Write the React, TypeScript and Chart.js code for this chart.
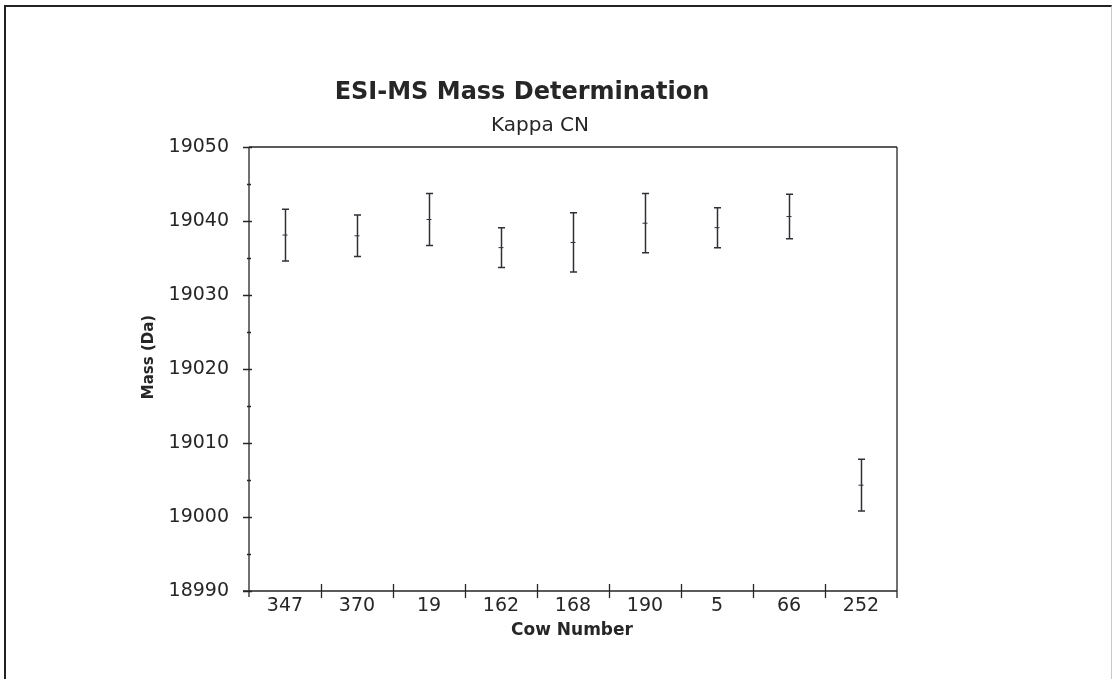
import { useEffect, useRef } from 'react';
import { Chart, registerables } from 'chart.js';

Chart.register(...registerables);

// Mass measurements per cow (mean with symmetric error half-width, in Da)
const cowNumbers = ['347', '370', '19', '162', '168', '190', '5', '66', '252'];
const massMeans = [19038.1, 19038.0, 19040.2, 19036.4, 19037.1, 19039.7, 19039.1, 19040.6, 19004.3];
const massErrors = [3.5, 2.8, 3.5, 2.7, 4.0, 4.0, 2.7, 3.0, 3.5];

const yMin = 18990;
const yMax = 19050;
const yStep = 5;
const yLabelEvery = 10;

const titleText = 'ESI-MS Mass Determination';
const subtitleText = 'Kappa CN';
const xAxisTitle = 'Cow Number';
const yAxisTitle = 'Mass (Da)';

const FONT = '"DejaVu Sans", "Liberation Sans", sans-serif';
const INK = '#262626';
const BAR_INK = '#303036';

const W = 1114;
const H = 679;

const axesAndBars = {
  id: 'axesAndBars',
  afterDatasetsDraw(chart: any) {
    const { ctx, chartArea, scales } = chart;
    const xs = scales.x;
    const ys = scales.y;
    const { left, right, top, bottom } = chartArea;

    ctx.save();
    ctx.strokeStyle = INK;
    ctx.lineWidth = 1.3;

    // plot frame
    ctx.beginPath();
    ctx.moveTo(left, top);
    ctx.lineTo(right, top);
    ctx.moveTo(left, top);
    ctx.lineTo(left, bottom + 6);
    ctx.moveTo(left - 6, bottom);
    ctx.lineTo(right, bottom);
    ctx.moveTo(right, top);
    ctx.lineTo(right, bottom + 7);
    ctx.stroke();

    // y tick marks (major with labels, minor between)
    ctx.beginPath();
    for (let v = yMin; v <= yMax; v += yStep) {
      const y = Math.round(ys.getPixelForValue(v)) + 0.5;
      const major = (v - yMin) % yLabelEvery === 0;
      ctx.moveTo(left - (major ? 6 : 2), y);
      ctx.lineTo(left + (major ? 3 : 2), y);
    }
    ctx.stroke();

    // x tick marks on category boundaries
    ctx.beginPath();
    for (let i = 1; i < cowNumbers.length; i++) {
      const x = Math.round((xs.getPixelForValue(i - 1) + xs.getPixelForValue(i)) / 2) + 0.5;
      ctx.moveTo(x, bottom - 7);
      ctx.lineTo(x, bottom + 7);
    }
    ctx.stroke();

    // error bars
    ctx.strokeStyle = BAR_INK;
    ctx.lineWidth = 1.5;
    ctx.beginPath();
    massMeans.forEach((m, i) => {
      const x = Math.round(xs.getPixelForValue(i)) + 0.5;
      const yHi = ys.getPixelForValue(m + massErrors[i]);
      const yLo = ys.getPixelForValue(m - massErrors[i]);
      ctx.moveTo(x, yHi);
      ctx.lineTo(x, yLo);
      ctx.moveTo(x - 3.5, yHi);
      ctx.lineTo(x + 3.5, yHi);
      ctx.moveTo(x - 3.5, yLo);
      ctx.lineTo(x + 3.5, yLo);
    });
    ctx.stroke();

    // titles
    ctx.fillStyle = INK;
    ctx.textAlign = 'center';
    ctx.textBaseline = 'alphabetic';
    ctx.font = `bold 24px ${FONT}`;
    ctx.fillText(titleText, 522, 99);
    ctx.font = `20px ${FONT}`;
    ctx.fillText(subtitleText, 540, 131);
    ctx.font = `bold 17px ${FONT}`;
    ctx.fillText(xAxisTitle, 572, 635);

    ctx.save();
    ctx.translate(153, 357);
    ctx.rotate(-Math.PI / 2);
    ctx.font = `bold 15px ${FONT}`;
    ctx.textBaseline = 'alphabetic';
    ctx.fillText(yAxisTitle, 0, 0);
    ctx.restore();

    ctx.restore();
  },
};

export default function App() {
  const canvasRef = useRef<HTMLCanvasElement | null>(null);

  useEffect(() => {
    const canvas = canvasRef.current;
    if (!canvas) return;
    const chart = new Chart(canvas, {
      type: 'line',
      data: {
        labels: cowNumbers,
        datasets: [
          {
            label: 'Mean mass',
            data: massMeans,
            showLine: false,
            pointStyle: 'line',
            pointRadius: 2.5,
            pointBorderWidth: 1,
            borderColor: BAR_INK,
            backgroundColor: BAR_INK,
          },
        ],
      },
      options: {
        responsive: false,
        animation: false,
        devicePixelRatio: 1,
        events: [],
        layout: { padding: { top: 147, right: W - 897, left: 0, bottom: 0 } },
        plugins: {
          legend: { display: false },
          title: { display: false },
          tooltip: { enabled: false },
        },
        scales: {
          x: {
            type: 'category',
            offset: true,
            grid: { display: false, drawTicks: false },
            border: { display: false },
            ticks: {
              color: INK,
              font: { family: FONT, size: 19 },
              padding: 4,
              maxRotation: 0,
              autoSkip: false,
            },
            afterFit: (scale: any) => {
              scale.height = H - 591;
            },
          },
          y: {
            type: 'linear',
            min: yMin,
            max: yMax,
            grid: { display: false, drawTicks: false },
            border: { display: false },
            ticks: {
              stepSize: yStep,
              color: INK,
              font: { family: FONT, size: 19 },
              padding: 20,
              callback: (v: any) => ((Number(v) - yMin) % yLabelEvery === 0 ? String(v) : ''),
            },
            afterFit: (scale: any) => {
              scale.width = 249;
            },
          },
        },
      },
      plugins: [axesAndBars],
    });
    return () => chart.destroy();
  }, []);

  return (
    <div style={{ position: 'fixed', left: 0, top: 0, width: W, height: H, background: '#fff' }}>
      <div
        style={{
          position: 'absolute',
          left: 4,
          top: 5,
          width: W - 6,
          height: H - 5,
          borderLeft: '2px solid #222',
          borderTop: '2px solid #222',
          borderRight: '1px solid #c8c8c8',
          boxSizing: 'border-box',
        }}
      />
      <canvas
        ref={canvasRef}
        width={W}
        height={H}
        style={{ position: 'absolute', left: 0, top: 0, width: W, height: H }}
      />
    </div>
  );
}
